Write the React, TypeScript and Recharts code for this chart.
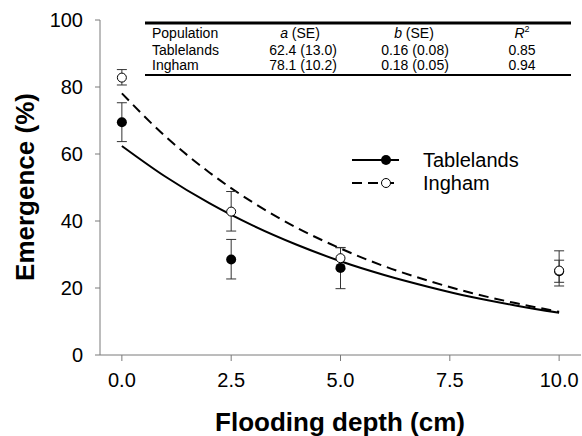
import { ComposedChart, Line, Scatter, ErrorBar, XAxis, YAxis } from "recharts";

// observed means with [lower, upper] error deltas
const depths = [0, 2.5, 5, 10];
const tablelandsMean = [69.5, 28.5, 26.0, 25.0];
const tablelandsErr = [[5.8, 5.8], [5.8, 6.0], [6.2, 6.0], [3.3, 3.3]];
const inghamMean = [82.8, 42.8, 28.9, 25.2];
const inghamErr = [[2.2, 2.4], [5.8, 6.0], [3.2, 3.2], [4.6, 5.9]];

// fitted curves
const curveX = [0, 1, 2, 3, 4, 5, 6, 7, 8, 9, 10];
const tablelandsFit = [62.4, 53.2, 45.3, 38.6, 32.9, 28.0, 23.9, 20.4, 17.3, 14.8, 12.6];
const inghamFit = [78.1, 65.2, 54.5, 45.5, 38.0, 31.8, 26.5, 22.2, 18.5, 15.5, 12.9];

const xTicks = [0, 2.5, 5, 7.5, 10];
const yTicks = [0, 20, 40, 60, 80, 100];

const tableRows = [
  { pop: "Tablelands", a: "62.4 (13.0)", b: "0.16 (0.08)", r2: "0.85" },
  { pop: "Ingham", a: "78.1 (10.2)", b: "0.18 (0.05)", r2: "0.94" },
];

const tPts = depths.map((x, i) => ({ x, y: tablelandsMean[i], err: tablelandsErr[i] }));
const iPts = depths.map((x, i) => ({ x, y: inghamMean[i], err: inghamErr[i] }));
const tCurve = curveX.map((x, i) => ({ x, y: tablelandsFit[i] }));
const iCurve = curveX.map((x, i) => ({ x, y: inghamFit[i] }));

const font = "'Liberation Sans', Arial, sans-serif";
const axisGray = "#7a7a7a";

const Filled = (p: any) => <circle cx={p.cx} cy={p.cy} r={5} fill="#000" />;
const Open = (p: any) => <circle cx={p.cx} cy={p.cy} r={4.5} fill="#fff" stroke="#000" strokeWidth={1} />;

export default function App() {
  return (
    <div style={{ position: "absolute", left: 0, top: 0, width: 582, height: 436, background: "#fff", fontFamily: font }}>
      <ComposedChart width={582} height={436} margin={{ top: 20, right: 1, bottom: 0, left: 0 }}>
        <XAxis
          type="number"
          dataKey="x"
          domain={[-0.5, 10.5]}
          ticks={xTicks}
          tickFormatter={(v: number) => v.toFixed(1)}
          stroke={axisGray}
          tick={{ fill: "#000", fontSize: 20, fontFamily: font }}
          tickSize={6}
          tickMargin={12}
          height={81}
        />
        <XAxis xAxisId="top" orientation="top" type="number" dataKey="x" domain={[-0.5, 10.5]} tick={false} tickLine={false} stroke={axisGray} height={0} />
        <YAxis
          type="number"
          domain={[0, 100]}
          ticks={yTicks}
          stroke={axisGray}
          tick={{ fill: "#000", fontSize: 20, fontFamily: font }}
          tickSize={5}
          tickMargin={12}
          width={100}
        />
        <YAxis yAxisId="right" orientation="right" domain={[0, 100]} tick={false} tickLine={false} stroke={axisGray} width={0} />
        <Line data={tCurve} dataKey="y" type="monotone" stroke="#000" strokeWidth={2} dot={false} isAnimationActive={false} />
        <Line data={iCurve} dataKey="y" type="monotone" stroke="#000" strokeWidth={2} strokeDasharray="10 6" dot={false} isAnimationActive={false} />
        <Scatter data={tPts} dataKey="y" shape={Filled} isAnimationActive={false}>
          <ErrorBar dataKey="err" direction="y" width={5} stroke="#333" strokeWidth={1} />
        </Scatter>
        <Scatter data={iPts} dataKey="y" shape={Open} isAnimationActive={false}>
          <ErrorBar dataKey="err" direction="y" width={5} stroke="#333" strokeWidth={1} />
        </Scatter>
      </ComposedChart>
      <svg width={582} height={436} style={{ position: "absolute", left: 0, top: 0, pointerEvents: "none" }}>
        {/* axis titles */}
        <text x={340} y={431} textAnchor="middle" fontSize={26} fontWeight="bold" fontFamily={font}>Flooding depth (cm)</text>
        <text x={0} y={0} transform="translate(34,187) rotate(-90)" textAnchor="middle" fontSize={26} fontWeight="bold" fontFamily={font}>Emergence (%)</text>
        {/* parameter table */}
        <line x1={145} x2={571} y1={23} y2={23} stroke="#000" strokeWidth={3} />
        <line x1={145} x2={571} y1={75} y2={75} stroke="#000" strokeWidth={2} />
        <g fontSize={14} fontFamily={font} fill="#000">
          <text x={152} y={38}>Population</text>
          <text x={300} y={38} textAnchor="middle"><tspan fontStyle="italic">a</tspan> (SE)</text>
          <text x={414} y={38} textAnchor="middle"><tspan fontStyle="italic">b</tspan> (SE)</text>
          <text x={522} y={38} textAnchor="middle"><tspan fontStyle="italic">R</tspan><tspan fontSize={9} dy={-6}>2</tspan></text>
          {tableRows.map((r, i) => (
            <g key={r.pop}>
              <text x={152} y={55 + i * 15}>{r.pop}</text>
              <text x={303} y={55 + i * 15} textAnchor="middle">{r.a}</text>
              <text x={415} y={55 + i * 15} textAnchor="middle">{r.b}</text>
              <text x={522} y={55 + i * 15} textAnchor="middle">{r.r2}</text>
            </g>
          ))}
        </g>
        {/* legend */}
        <line x1={352} x2={399} y1={160} y2={160} stroke="#000" strokeWidth={2} />
        <circle cx={386} cy={160} r={5} fill="#000" />
        <text x={423} y={167} fontSize={20} fontFamily={font}>Tablelands</text>
        <line x1={352} x2={399} y1={183} y2={183} stroke="#000" strokeWidth={2} strokeDasharray="10 6" />
        <circle cx={386} cy={183} r={4.5} fill="#fff" stroke="#000" />
        <text x={423} y={190} fontSize={20} fontFamily={font}>Ingham</text>
      </svg>
    </div>
  );
}
